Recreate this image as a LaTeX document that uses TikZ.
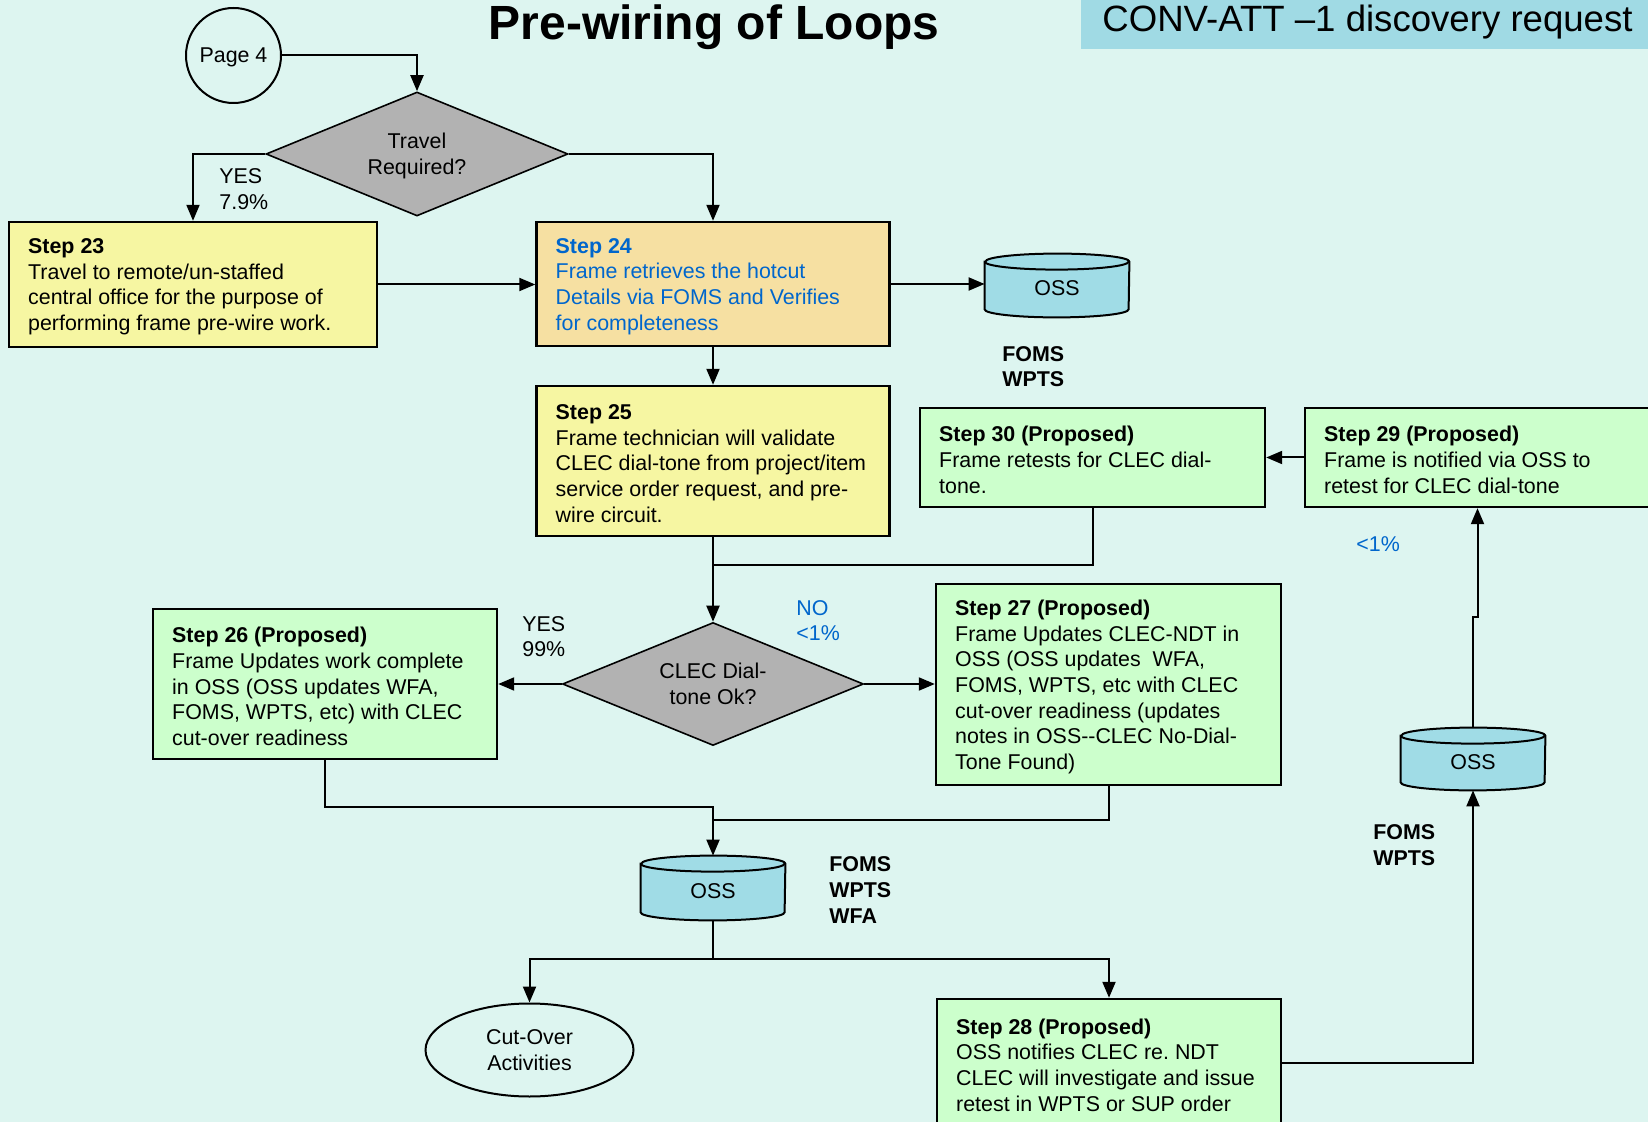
\documentclass[tikz,border=0pt]{standalone}
\usepackage{fontspec}
\setmainfont{Liberation Sans}
\usetikzlibrary{arrows.meta,shapes.geometric,calc}

\definecolor{bgmint}{RGB}{221,245,240}
\definecolor{paleyellow}{RGB}{246,246,162}
\definecolor{peach}{RGB}{246,224,162}
\definecolor{palegreen}{RGB}{204,255,204}
\definecolor{decgray}{RGB}{178,178,178}
\definecolor{drumblue}{RGB}{160,220,230}
\definecolor{headblue}{RGB}{160,218,228}
\definecolor{linkblue}{RGB}{0,102,204}

\newcommand\bodyfont{\fontsize{10.7}{12.85}\selectfont}

\tikzset{
  every node/.style={font=\bodyfont},
  stepbox/.style={draw, line width=1.2pt, inner sep=0pt},
  steptext/.style={anchor=west, align=left, inner sep=0pt, yshift=-1.2pt},
  decision/.style={diamond, aspect=2.43, draw, line width=0.8pt, fill=decgray,
                   inner sep=0pt, align=center, text depth=0pt},
  flow/.style={line width=1pt},
  arr/.style={flow, -{Triangle[length=8pt,width=6.5pt]}},
  tag/.style={anchor=west, align=left, inner sep=0pt, yshift=-0.6pt},
  sysnote/.style={tag, font=\bodyfont\bfseries},
  drum/.style={draw=none, inner sep=0pt, minimum width=72pt},
}

% database drum filling the rectangle of node #1
\newcommand\drawdrum[1]{%
  \filldraw[fill=drumblue, line width=1pt]
    ($(#1.north west)+(0,8)$) -- ($(#1.south west)+(0,-8)$)
    arc[start angle=180, end angle=360, x radius=36pt, y radius=4pt]
    -- ($(#1.north east)+(0,8)$)
    arc[start angle=0, end angle=180, x radius=36pt, y radius=4pt] -- cycle;
  \draw[line width=1pt] ($(#1.north west)+(0,8)$)
    arc[start angle=180, end angle=360, x radius=36pt, y radius=4pt];
}

\begin{document}
\begin{tikzpicture}[x=0.5pt,y=-0.5pt]
\fill[bgmint] (0,0) rectangle (1648,1122);
\useasboundingbox (0,0) rectangle (1648,1122);
\clip (0,0) rectangle (1648,1122);

% headings
\fill[headblue] (1081,0) rectangle (1700,49);
\node[anchor=base west, inner sep=0pt, font=\fontsize{18.3}{22}\selectfont] (ref) at (1102,32)
  {CONV-ATT –1 discovery request};
\node[anchor=base, inner sep=0pt, font=\bfseries\fontsize{24}{28}\selectfont] (title) at (714,40)
  {Pre-wiring of Loops};

% start and decisions
\node[circle, draw, line width=1pt, minimum size=47.5pt, inner sep=0pt, text depth=0pt] (page4) at (233.5,55.5) {Page 4};
\node[decision, minimum width=151pt, minimum height=62pt] (travel) at (417,154) {Travel\\Required?};
\node[decision, minimum width=150.5pt, minimum height=61.5pt] (clec) at (713,684) {CLEC Dial-\\tone Ok?};

% process steps
\node[stepbox, fill=paleyellow, minimum width=184pt, minimum height=62.5pt] (s23) at (193,284.5) {};
\node[steptext] (s23t) at ([xshift=10pt]s23.west)
  {\textbf{Step 23}\\Travel to remote/un-staffed\\central office for the purpose of\\performing frame pre-wire work.};

\node[stepbox, fill=peach, minimum width=176.5pt, minimum height=62pt] (s24) at (713,284) {};
\node[steptext, text=linkblue] (s24t) at ([xshift=10pt]s24.west)
  {\textbf{Step 24}\\Frame retrieves the hotcut\\Details via FOMS and Verifies\\for completeness};

\node[stepbox, fill=paleyellow, minimum width=176.5pt, minimum height=75pt] (s25) at (713,461) {};
\node[steptext] (s25t) at ([xshift=10pt]s25.west)
  {\textbf{Step 25}\\Frame technician will validate\\CLEC dial-tone from project/item\\service order request, and pre-\\wire circuit.};

\node[stepbox, fill=palegreen, minimum width=172pt, minimum height=75pt] (s26) at (325,684) {};
\node[steptext] (s26t) at ([xshift=10pt]s26.west)
  {\textbf{Step 26 (Proposed)}\\Frame Updates work complete\\in OSS (OSS updates WFA,\\FOMS, WPTS, etc) with CLEC\\cut-over readiness};

\node[stepbox, fill=palegreen, minimum width=172.5pt, minimum height=100.5pt] (s27) at (1108.5,684.5) {};
\node[steptext] (s27t) at ([xshift=10pt]s27.west)
  {\textbf{Step 27 (Proposed)}\\Frame Updates CLEC-NDT in\\OSS (OSS updates\ \ WFA,\\FOMS, WPTS, etc with CLEC\\cut-over readiness (updates\\notes in OSS-{}-CLEC No-Dial-\\Tone Found)};

\node[stepbox, fill=palegreen, minimum width=172pt, minimum height=63.5pt] (s28) at (1109,1062.5) {};
\node[steptext] (s28t) at ([xshift=10pt]s28.west)
  {\textbf{Step 28 (Proposed)}\\OSS notifies CLEC re.\ NDT\\CLEC will investigate and issue\\retest in WPTS or SUP order};

\node[stepbox, fill=palegreen, minimum width=172.5pt, minimum height=49.5pt] (s30) at (1092.5,457.5) {};
\node[steptext] (s30t) at ([xshift=10pt]s30.west)
  {\textbf{Step 30 (Proposed)}\\Frame retests for CLEC dial-\\tone.};

\node[stepbox, fill=palegreen, minimum width=172.5pt, minimum height=49.5pt] (s29) at (1477.5,457.5) {};
\node[steptext] (s29t) at ([xshift=10pt]s29.west)
  {\textbf{Step 29 (Proposed)}\\Frame is notified via OSS to\\retest for CLEC dial-tone};

\node[ellipse, draw, line width=1pt, minimum width=104pt, minimum height=46.5pt, inner sep=0pt, align=center]
  (cutover) at (529.5,1050) {Cut-Over\\Activities};

% OSS drums
\node[drum, minimum height=31.5pt] (oss1) at (1057,285.5) {};
\node[drum, minimum height=32pt] (oss2) at (713,888) {};
\node[drum, minimum height=31pt] (oss3) at (1473,759) {};

% connectors
\draw[arr] (page4.east) -| (travel.north);
\draw[arr] (travel.west) -| (s23.north);
\draw[arr] (travel.east) -| (s24.north);
\draw[arr] (s23.east) -- (s23.east -| s24.west);
\draw[arr] (s24.east) -- (s24.east -| oss1.west);
\draw[arr] (s24.south) -- (s25.north);
\draw[arr] (s25.south) -- (clec.north);
\coordinate (j1) at (713,565);
\draw[flow] (s30.south) |- (j1);
\draw[arr] (clec.west) -- (s26.east);
\draw[arr] (clec.east) -- (clec.east -| s27.west);
\coordinate (j2) at (713,807);
\coordinate (j3) at (713,820);
\draw[arr] (s26.south) |- (j2) -- (oss2.north);
\draw[flow] (s27.south) |- (j3);
\coordinate (j4) at (713,959);
\draw[flow] (oss2.south) -- (j4);
\draw[arr] (j4) -| (cutover.north);
\draw[arr] (j4) -| (s28.north);
\draw[arr] (s28.east) -| (oss3.south);
\coordinate (j5) at (1473,617);
\draw[arr] (oss3.north) -- (j5) -| (s29.south);
\draw[arr] (s29.west) -- (s30.east);

\drawdrum{oss1}
\drawdrum{oss2}
\drawdrum{oss3}
\node (oss1t) at ([yshift=-1.5pt]oss1.center) {OSS};
\node (oss2t) at ([yshift=-1.5pt]oss2.center) {OSS};
\node (oss3t) at ([yshift=-1.5pt]oss3.center) {OSS};

% branch and system labels
\node[tag] (yes1) at (219,188) {YES\\7.9\%};
\node[tag] (yes2) at (522,635.5) {YES\\99\%};
\node[tag, text=linkblue] (no1) at (796,619.5) {NO\\<1\%};
\node[tag, text=linkblue] (pct) at (1356,543) {<1\%};
\node[sysnote] (sys1) at (1002,365.5) {FOMS\\WPTS};
\node[sysnote] (sys2) at (829,889) {FOMS\\WPTS\\WFA};
\node[sysnote] (sys3) at (1373,844) {FOMS\\WPTS};
\end{tikzpicture}
\end{document}
